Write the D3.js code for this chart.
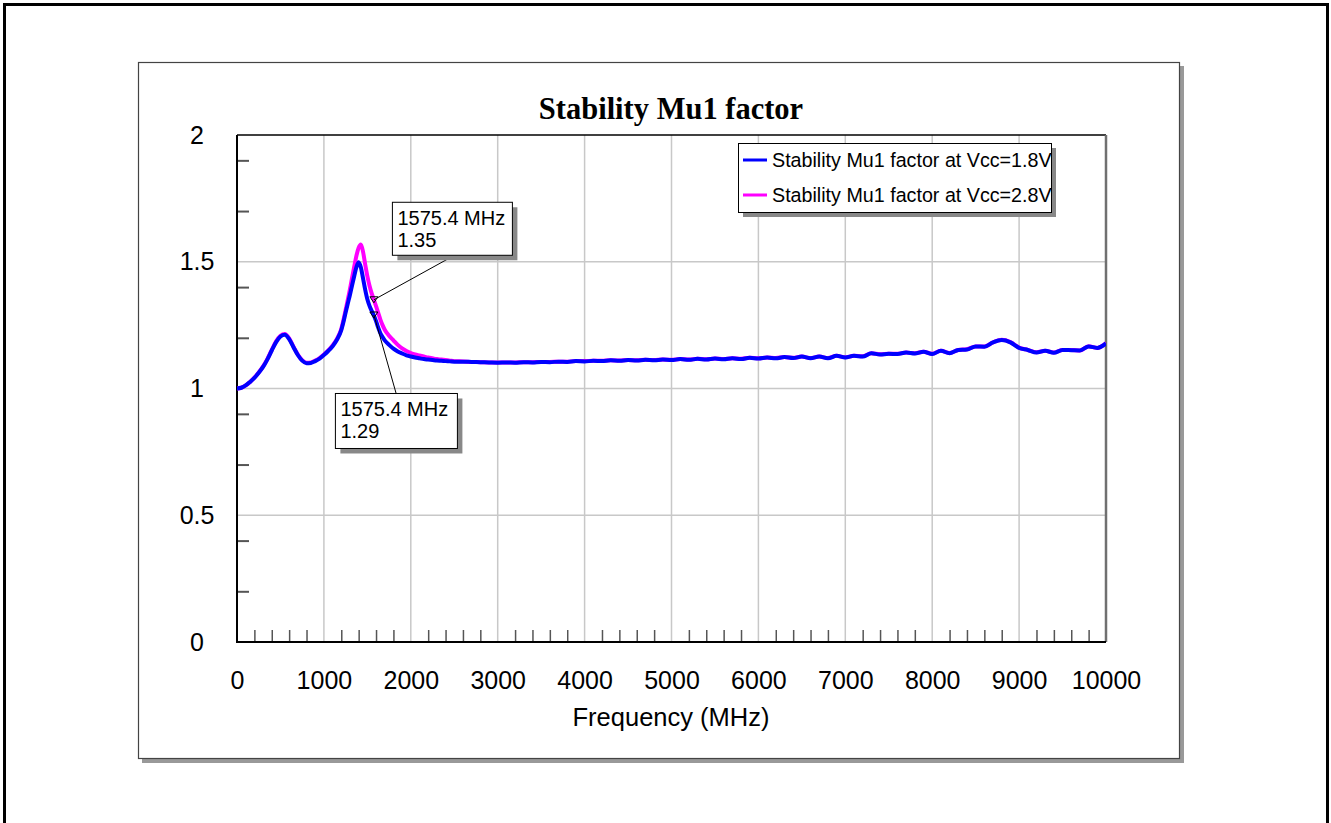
<!DOCTYPE html>
<html>
<head>
<meta charset="utf-8">
<script src="https://cdn.jsdelivr.net/npm/d3@7"></script>
<style>
    body { margin: 0; background: #fff; }
    text { font-family: "Liberation Sans", Arial, sans-serif; fill: #000; }
</style>
</head>
<body>
<svg id="chart" width="1331" height="823"></svg>
<script>
// Frequency points (MHz), denser around the resonance.
const freq = [
    0, 50, 100, 150, 200, 250, 300, 350, 400, 450, 500, 550, 600, 650, 700, 750, 800, 850, 900, 950, 1000, 1050, 1100, 1150, 1200,
    1225, 1250, 1275, 1300, 1325, 1350, 1375, 1400, 1425, 1450, 1475, 1500, 1525, 1550, 1575, 1600, 1625, 1650, 1675, 1700,
    1750, 1800, 1850, 1900, 1950, 2000, 2050, 2100, 2150, 2200, 2250, 2300, 2350, 2400, 2450, 2500,
    2600, 2700, 2800, 2900, 3000,
    3100, 3200, 3300, 3400, 3500, 3600, 3700, 3800, 3900, 4000,
    4100, 4200, 4300, 4400, 4500, 4600, 4700, 4800, 4900, 5000,
    5100, 5200, 5300, 5400, 5500, 5600, 5700, 5800, 5900, 6000,
    6100, 6200, 6300, 6400, 6500, 6600, 6700, 6800, 6900, 7000,
    7100, 7200, 7300, 7400, 7500, 7600, 7700, 7800, 7900, 8000,
    8100, 8200, 8300, 8400, 8500, 8600, 8700, 8800, 8900, 9000,
    9100, 9200, 9300, 9400, 9500, 9600, 9700, 9800, 9900, 10000
];

// Mu1 at Vcc = 1.8V (blue)
const mu18 = [
    1.000, 1.003, 1.012, 1.026, 1.042, 1.062, 1.085, 1.115, 1.150, 1.183, 1.205, 1.212, 1.195, 1.163, 1.132, 1.110, 1.100, 1.101, 1.108, 1.118, 1.132, 1.148, 1.167, 1.192, 1.230,
    1.262, 1.300, 1.335, 1.370, 1.408, 1.445, 1.480, 1.498, 1.478, 1.435, 1.390, 1.352, 1.326, 1.306, 1.288, 1.266, 1.240, 1.218, 1.203, 1.190,
    1.172, 1.157, 1.146, 1.138, 1.131, 1.126, 1.122, 1.119, 1.116, 1.114, 1.112, 1.110, 1.109, 1.108, 1.107, 1.106,
    1.106, 1.105, 1.104, 1.103, 1.102,
    1.103, 1.102, 1.104, 1.103, 1.105, 1.104, 1.106, 1.105, 1.108, 1.107,
    1.109, 1.108, 1.111, 1.109, 1.112, 1.110, 1.113, 1.111, 1.114, 1.112,
    1.116, 1.113, 1.117, 1.114, 1.118, 1.115, 1.119, 1.116, 1.121, 1.118,
    1.122, 1.119, 1.124, 1.120, 1.126, 1.119, 1.126, 1.119, 1.129, 1.122,
    1.129, 1.126, 1.139, 1.134, 1.137, 1.136, 1.142, 1.138, 1.145, 1.136,
    1.149, 1.139, 1.152, 1.154, 1.166, 1.165, 1.182, 1.191, 1.182, 1.160,
    1.152, 1.142, 1.149, 1.141, 1.152, 1.151, 1.150, 1.166, 1.160, 1.178
];

// Mu1 at Vcc = 2.8V (magenta)
const mu28 = [
    1.000, 1.003, 1.012, 1.026, 1.043, 1.063, 1.087, 1.117, 1.152, 1.186, 1.208, 1.215, 1.198, 1.165, 1.134, 1.112, 1.102, 1.103, 1.110, 1.120, 1.134, 1.150, 1.170, 1.196, 1.235,
    1.270, 1.310, 1.350, 1.392, 1.438, 1.483, 1.525, 1.555, 1.568, 1.540, 1.490, 1.443, 1.405, 1.375, 1.350, 1.325, 1.298, 1.272, 1.250, 1.232,
    1.208, 1.190, 1.172, 1.158, 1.148, 1.140, 1.134, 1.130, 1.126, 1.122, 1.119, 1.116, 1.114, 1.112, 1.110, 1.108,
    1.107, 1.105, 1.104, 1.103, 1.103,
    1.103, 1.103, 1.104, 1.104, 1.105, 1.105, 1.106, 1.106, 1.108, 1.108,
    1.109, 1.109, 1.111, 1.110, 1.112, 1.111, 1.113, 1.112, 1.114, 1.113,
    1.116, 1.114, 1.117, 1.115, 1.118, 1.116, 1.119, 1.117, 1.121, 1.119,
    1.122, 1.120, 1.124, 1.121, 1.126, 1.120, 1.126, 1.120, 1.129, 1.123,
    1.129, 1.127, 1.139, 1.135, 1.137, 1.137, 1.142, 1.139, 1.145, 1.137,
    1.149, 1.140, 1.152, 1.155, 1.166, 1.166, 1.182, 1.192, 1.183, 1.161,
    1.152, 1.143, 1.149, 1.142, 1.152, 1.152, 1.150, 1.167, 1.160, 1.179
];

const seriesNames = ["Stability Mu1 factor at Vcc=1.8V", "Stability Mu1 factor at Vcc=2.8V"];
const seriesColors = ["#0000ff", "#ff00ff"];

// Axis ticks as they appear on the chart
const xTicks = [0, 1000, 2000, 3000, 4000, 5000, 6000, 7000, 8000, 9000, 10000];
const xMinor = [200, 400, 600, 800, 1200, 1400, 1600, 1800, 2200, 2400, 2600, 2800, 3200, 3400, 3600, 3800,
    4200, 4400, 4600, 4800, 5200, 5400, 5600, 5800, 6200, 6400, 6600, 6800, 7200, 7400, 7600, 7800,
    8200, 8400, 8600, 8800, 9200, 9400, 9600, 9800];
const yTicks = [0, 0.5, 1, 1.5, 2];
const yMinor = [0.2, 0.4, 0.7, 0.9, 1.2, 1.4, 1.7, 1.9];

// Markers: [frequency, value, series index]
const markers = [[1575.4, 1.35, 1], [1575.4, 1.29, 0]];

const svg = d3.select("#chart");

// Outer frame and chart box with its drop shadow
svg.append("rect").attr("x", 4.5).attr("y", 4.5).attr("width", 1323).attr("height", 840)
    .attr("fill", "none").attr("stroke", "#000").attr("stroke-width", 3);
svg.append("rect").attr("x", 142).attr("y", 66).attr("width", 1042).attr("height", 697).attr("fill", "#999");
svg.append("rect").attr("x", 138.5).attr("y", 62.5).attr("width", 1041).attr("height", 696)
    .attr("fill", "#fff").attr("stroke", "#444").attr("stroke-width", 1.2);

const x = d3.scaleLinear().domain([0, 10000]).range([237, 1106]);
const y = d3.scaleLinear().domain([0, 2]).range([642, 135]);

// Grid
const grid = svg.append("g").attr("stroke", "#c8c8c8").attr("stroke-width", 1.5);
grid.selectAll(".gx").data(xTicks.slice(1, -1)).join("line")
    .attr("x1", d => x(d)).attr("x2", d => x(d)).attr("y1", y(2)).attr("y2", y(0));
grid.selectAll(".gy").data(yTicks.slice(1, -1)).join("line")
    .attr("x1", x(0)).attr("x2", x(10000)).attr("y1", d => y(d)).attr("y2", d => y(d));

// Plot frame: top black, right grey
svg.append("line").attr("x1", x(0)).attr("x2", x(10000)).attr("y1", y(2)).attr("y2", y(2))
    .attr("stroke", "#000").attr("stroke-width", 1.5);
svg.append("line").attr("x1", x(10000)).attr("x2", x(10000)).attr("y1", y(2)).attr("y2", y(0))
    .attr("stroke", "#707070").attr("stroke-width", 2.5);

// Minor ticks (inside the plot)
svg.append("g").attr("transform", `translate(0,${y(0)})`)
    .call(d3.axisBottom(x).tickValues(xMinor).tickSize(-12).tickFormat(""))
    .call(g => g.select(".domain").remove())
    .selectAll("line").attr("stroke", "#555").attr("stroke-width", 1.5);
svg.append("g").attr("transform", `translate(${x(0)},0)`)
    .call(d3.axisLeft(y).tickValues(yMinor).tickSize(-12).tickFormat(""))
    .call(g => g.select(".domain").remove())
    .selectAll("line").attr("stroke", "#555").attr("stroke-width", 2);

// Tick labels
const xAxis = svg.append("g").attr("transform", `translate(0,${y(0)})`)
    .call(d3.axisBottom(x).tickValues(xTicks).tickSize(0).tickPadding(29).tickFormat(d3.format("d")));
xAxis.select(".domain").remove();
xAxis.selectAll("text").attr("font-size", 25).attr("font-family", null);

const yAxis = svg.append("g").attr("transform", `translate(${x(0)},0)`)
    .call(d3.axisLeft(y).tickValues(yTicks).tickSize(0).tickFormat(d3.format("")));
yAxis.select(".domain").remove();
yAxis.selectAll("text").attr("font-size", 25).attr("font-family", null)
    .attr("text-anchor", "middle").attr("x", -40);

// Axis lines
svg.append("line").attr("x1", x(0)).attr("x2", x(0)).attr("y1", y(2)).attr("y2", y(0))
    .attr("stroke", "#000").attr("stroke-width", 2);
svg.append("line").attr("x1", x(0) - 1).attr("x2", x(10000)).attr("y1", y(0)).attr("y2", y(0))
    .attr("stroke", "#000").attr("stroke-width", 2);

// Curves
svg.append("clipPath").attr("id", "clip").append("rect")
    .attr("x", x(0)).attr("y", y(2)).attr("width", x(10000) - x(0)).attr("height", y(0) - y(2));
const line = d3.line().x(d => x(d[0])).y(d => y(d[1])).curve(d3.curveMonotoneX);
const series = [mu18, mu28];
[1, 0].forEach(k => {
    svg.append("path")
        .datum(freq.map((f, i) => [f, series[k][i]]))
        .attr("clip-path", "url(#clip)")
        .attr("fill", "none")
        .attr("stroke", seriesColors[k])
        .attr("stroke-width", 4)
        .attr("stroke-linejoin", "round")
        .attr("d", line);
});

// Title and axis title
svg.append("text").attr("x", 671).attr("y", 119).attr("text-anchor", "middle")
    .style("font-family", "'Liberation Serif', 'Times New Roman', serif")
    .attr("font-size", 30.5).attr("font-weight", "bold")
    .text("Stability Mu1 factor");
svg.append("text").attr("x", 671).attr("y", 726).attr("text-anchor", "middle")
    .attr("font-size", 25.5).text("Frequency (MHz)");

// Legend
const legend = svg.append("g");
legend.append("rect").attr("x", 743).attr("y", 148).attr("width", 313).attr("height", 69).attr("fill", "#888");
legend.append("rect").attr("x", 738.5).attr("y", 143.5).attr("width", 313).attr("height", 69)
    .attr("fill", "#fff").attr("stroke", "#000").attr("stroke-width", 1);
seriesNames.forEach((name, i) => {
    const ly = 160 + i * 35;
    legend.append("line").attr("x1", 743).attr("x2", 767).attr("y1", ly).attr("y2", ly)
        .attr("stroke", seriesColors[i]).attr("stroke-width", 3);
    legend.append("text").attr("x", 772).attr("y", ly + 7).attr("font-size", 19.7).text(name);
});

// Marker callouts: box offset from the marked point
const boxes = [
    { dx: 18.5, dy: -97.5, w: 120, h: 53, lx: 455, ly: 255 },
    { dx: -38.5, dy: 78.5, w: 122, h: 55, lx: 396, ly: 393 }
];
markers.forEach((m, i) => {
    const px = x(m[0]), py = y(m[1]);
    const b = boxes[i];
    const bx = px + b.dx, by = py + b.dy;
    svg.append("line").attr("x1", b.lx).attr("y1", b.ly).attr("x2", px).attr("y2", py)
        .attr("stroke", "#000").attr("stroke-width", 1);
    svg.append("path").attr("d", `M${px - 4},${py - 3}L${px + 4},${py - 3}L${px},${py + 3}Z`)
        .attr("fill", "none").attr("stroke", "#000").attr("stroke-width", 1);
    svg.append("rect").attr("x", bx + 5).attr("y", by + 5).attr("width", b.w).attr("height", b.h).attr("fill", "#888");
    svg.append("rect").attr("x", bx).attr("y", by).attr("width", b.w).attr("height", b.h)
        .attr("fill", "#fff").attr("stroke", "#000").attr("stroke-width", 1);
    svg.append("text").attr("x", bx + 5).attr("y", by + 23).attr("font-size", 20).text(`${m[0]} MHz`);
    svg.append("text").attr("x", bx + 5).attr("y", by + 45).attr("font-size", 20).text(d3.format(".2f")(m[1]));
});
</script>
</body>
</html>
